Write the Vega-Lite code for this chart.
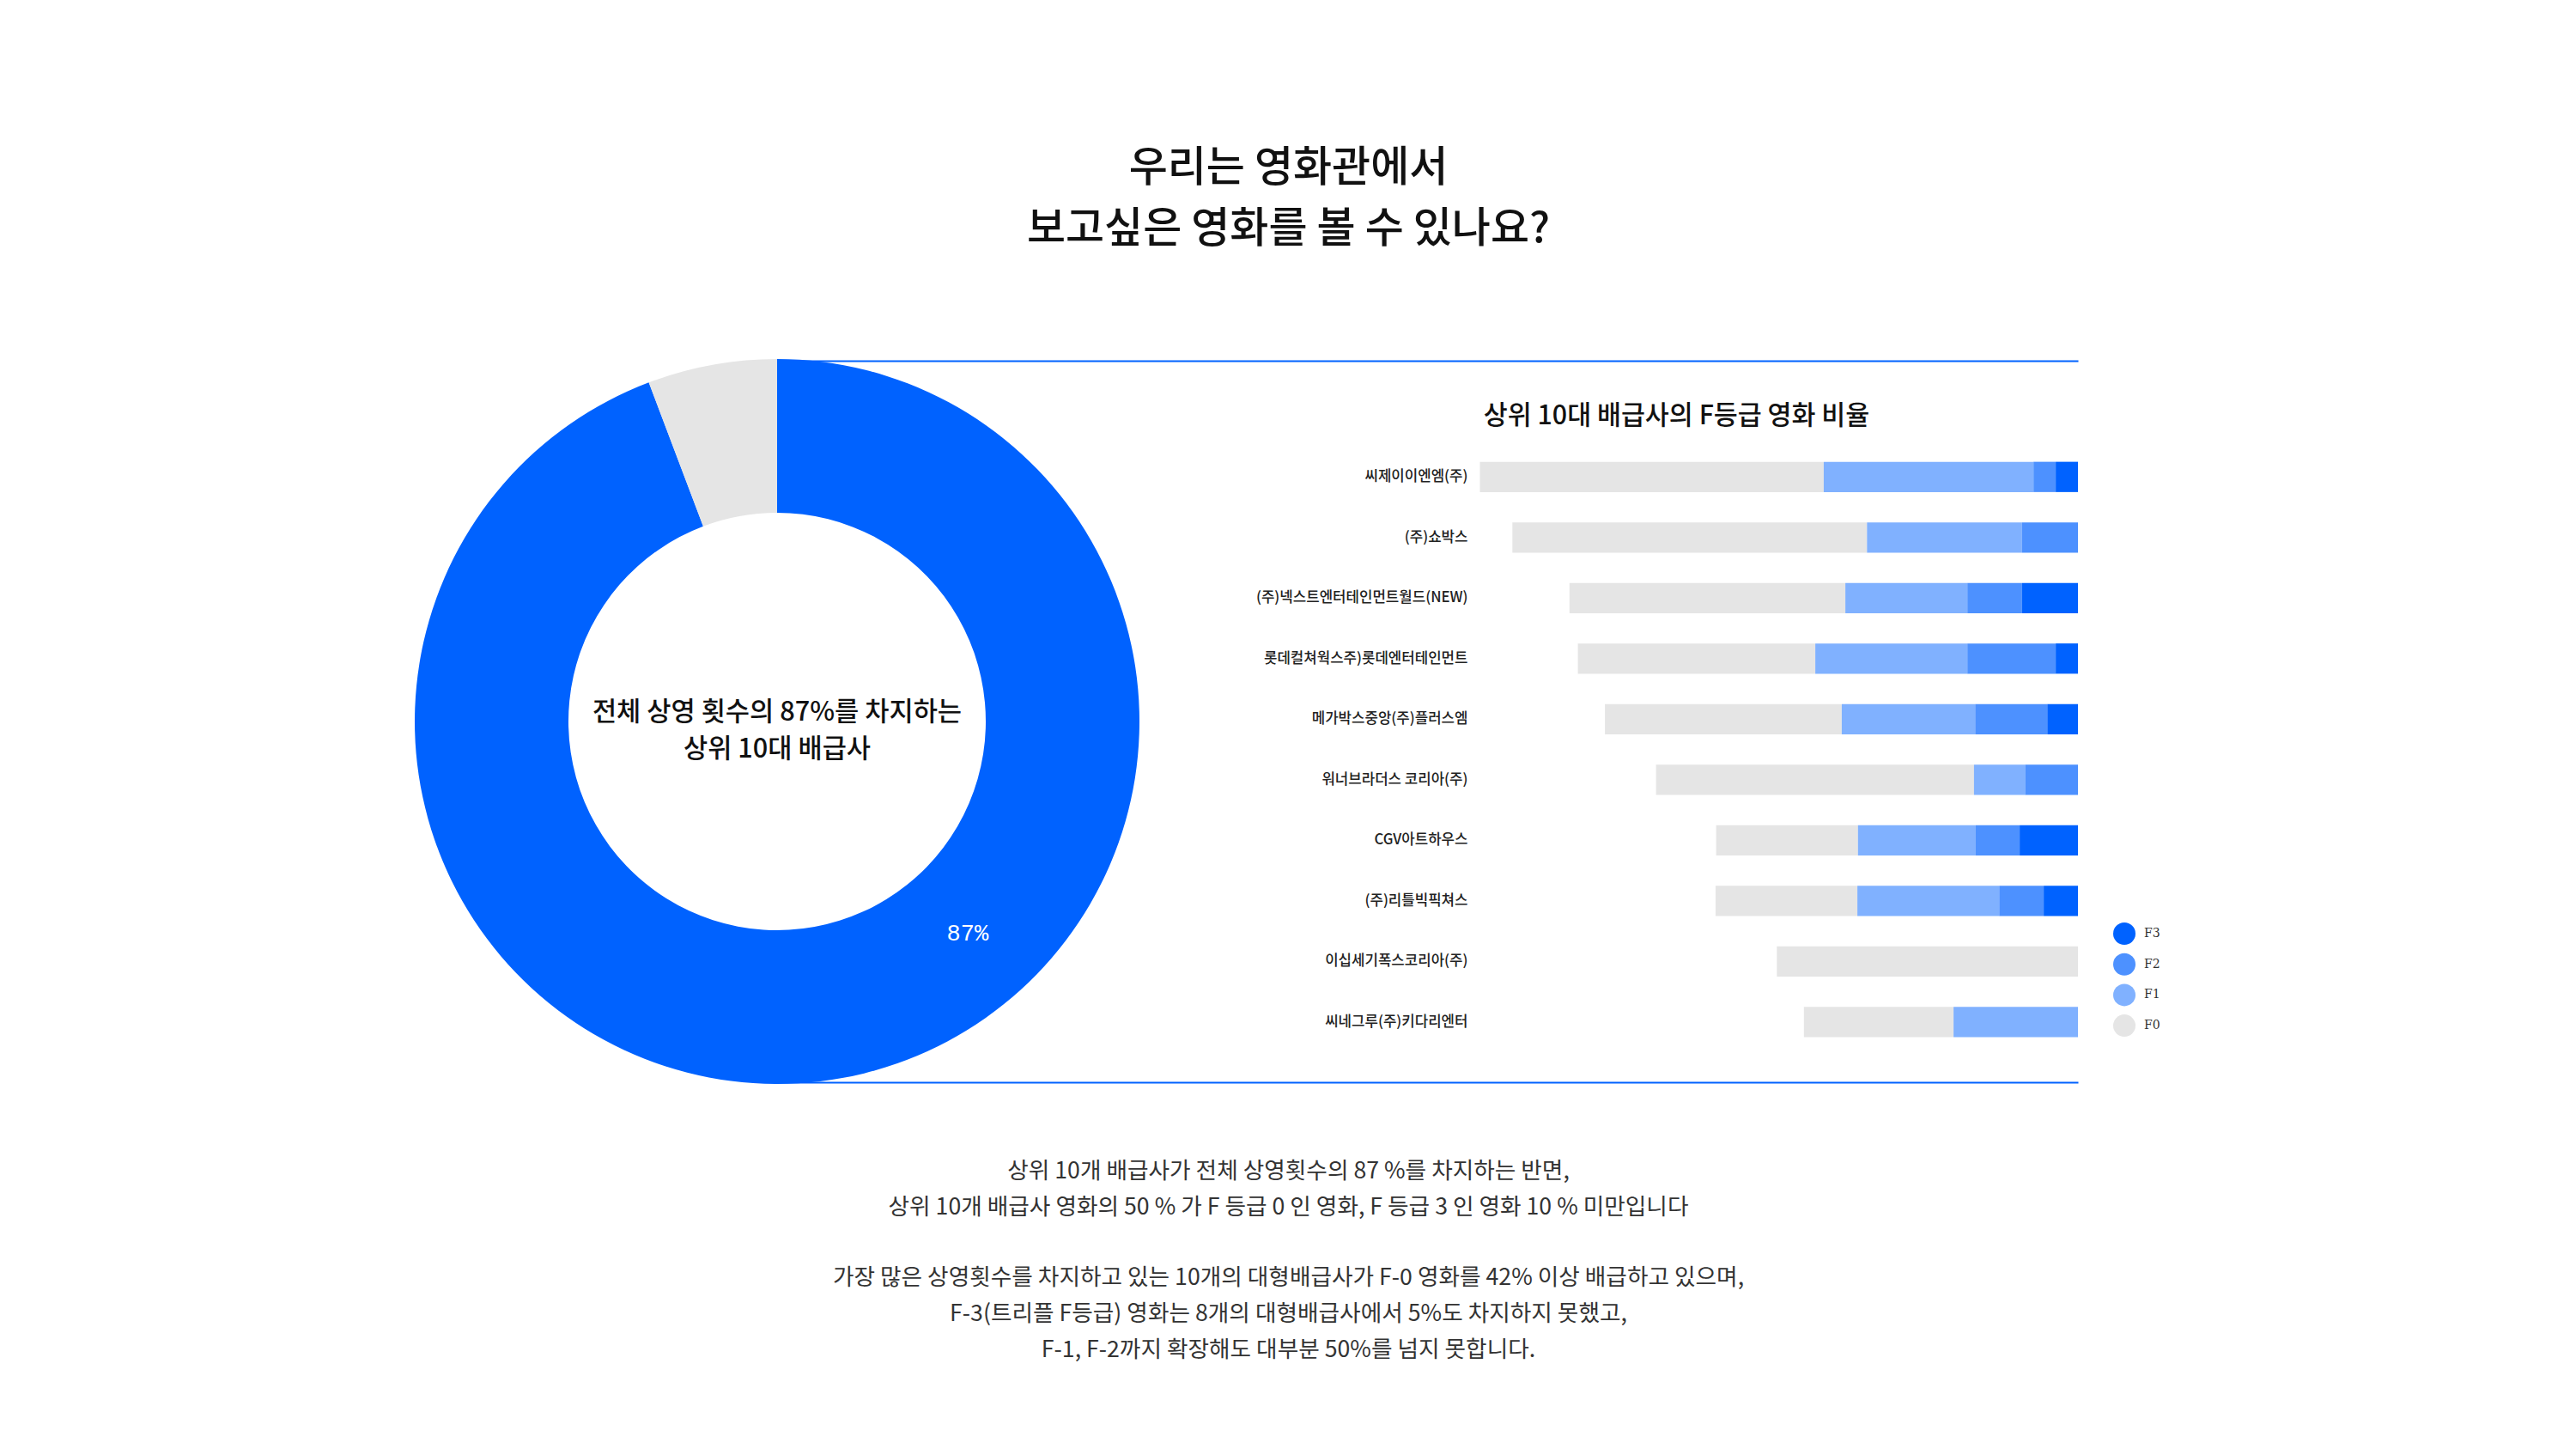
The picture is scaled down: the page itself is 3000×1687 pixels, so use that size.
{
  "$schema": "https://vega.github.io/schema/vega-lite/v6.json",
  "autosize": {"type": "none"},
  "padding": {"left": 905, "top": 420, "right": 580, "bottom": 427},
  "width": 1515,
  "height": 840,
  "background": "white",
  "config": {
    "view": {"stroke": null},
    "font": "Noto Sans CJK KR",
    "text": {"font": "Noto Sans CJK KR"}
  },
  "datasets": {
    "bars": [
      {"company": "씨제이이엔엠(주)", "grade": "F0", "value": 57.2},
      {"company": "씨제이이엔엠(주)", "grade": "F1", "value": 34.9},
      {"company": "씨제이이엔엠(주)", "grade": "F2", "value": 3.7},
      {"company": "씨제이이엔엠(주)", "grade": "F3", "value": 3.7},
      {"company": "(주)쇼박스", "grade": "F0", "value": 59.0},
      {"company": "(주)쇼박스", "grade": "F1", "value": 25.8},
      {"company": "(주)쇼박스", "grade": "F2", "value": 9.3},
      {"company": "(주)쇼박스", "grade": "F3", "value": 0},
      {"company": "(주)넥스트엔터테인먼트월드(NEW)", "grade": "F0", "value": 45.9},
      {"company": "(주)넥스트엔터테인먼트월드(NEW)", "grade": "F1", "value": 20.3},
      {"company": "(주)넥스트엔터테인먼트월드(NEW)", "grade": "F2", "value": 9.1},
      {"company": "(주)넥스트엔터테인먼트월드(NEW)", "grade": "F3", "value": 9.3},
      {"company": "롯데컬쳐웍스주)롯데엔터테인먼트", "grade": "F0", "value": 39.5},
      {"company": "롯데컬쳐웍스주)롯데엔터테인먼트", "grade": "F1", "value": 25.3},
      {"company": "롯데컬쳐웍스주)롯데엔터테인먼트", "grade": "F2", "value": 14.7},
      {"company": "롯데컬쳐웍스주)롯데엔터테인먼트", "grade": "F3", "value": 3.7},
      {"company": "메가박스중앙(주)플러스엠", "grade": "F0", "value": 39.4},
      {"company": "메가박스중앙(주)플러스엠", "grade": "F1", "value": 22.2},
      {"company": "메가박스중앙(주)플러스엠", "grade": "F2", "value": 12.0},
      {"company": "메가박스중앙(주)플러스엠", "grade": "F3", "value": 5.1},
      {"company": "워너브라더스 코리아(주)", "grade": "F0", "value": 52.9},
      {"company": "워너브라더스 코리아(주)", "grade": "F1", "value": 8.5},
      {"company": "워너브라더스 코리아(주)", "grade": "F2", "value": 8.8},
      {"company": "워너브라더스 코리아(주)", "grade": "F3", "value": 0},
      {"company": "CGV아트하우스", "grade": "F0", "value": 23.6},
      {"company": "CGV아트하우스", "grade": "F1", "value": 19.6},
      {"company": "CGV아트하우스", "grade": "F2", "value": 7.3},
      {"company": "CGV아트하우스", "grade": "F3", "value": 9.7},
      {"company": "(주)리틀빅픽쳐스", "grade": "F0", "value": 23.6},
      {"company": "(주)리틀빅픽쳐스", "grade": "F1", "value": 23.6},
      {"company": "(주)리틀빅픽쳐스", "grade": "F2", "value": 7.4},
      {"company": "(주)리틀빅픽쳐스", "grade": "F3", "value": 5.7},
      {"company": "이십세기폭스코리아(주)", "grade": "F0", "value": 50.1},
      {"company": "이십세기폭스코리아(주)", "grade": "F1", "value": 0},
      {"company": "이십세기폭스코리아(주)", "grade": "F2", "value": 0},
      {"company": "이십세기폭스코리아(주)", "grade": "F3", "value": 0},
      {"company": "씨네그루(주)키다리엔터", "grade": "F0", "value": 24.9},
      {"company": "씨네그루(주)키다리엔터", "grade": "F1", "value": 20.7},
      {"company": "씨네그루(주)키다리엔터", "grade": "F2", "value": 0},
      {"company": "씨네그루(주)키다리엔터", "grade": "F3", "value": 0}
    ],
    "donut": [
      {"idx": 1, "group": "상위 10대 배급사", "share": 94.24},
      {"idx": 2, "group": "기타", "share": 5.76}
    ],
    "donutLabel": [
      {"idx": 1, "label": "87%", "share": 76.7},
      {"idx": 2, "label": "", "share": 23.3}
    ]
  },
  "layer": [
    {
      "data": {"name": "bars"},
      "mark": {"type": "bar"},
      "encoding": {
        "y": {
          "field": "company",
          "type": "nominal",
          "sort": null,
          "scale": {"range": [100, 805], "paddingInner": 0.5, "paddingOuter": 0.25},
          "axis": {
            "orient": "left",
            "offset": -808,
            "domain": false,
            "ticks": false,
            "tickSize": 0,
            "grid": false,
            "labelPadding": 4,
            "labelFont": "Noto Sans CJK KR",
            "labelFontSize": 16.8,
            "labelFontWeight": 500,
            "labelColor": "#222222",
            "labelLimit": 400,
            "title": "상위 10대 배급사의 F등급 영화 비율",
            "titleAngle": 0,
            "titleX": 239,
            "titleY": 64,
            "titleAlign": "center",
            "titleBaseline": "middle",
            "titleFont": "Noto Sans CJK KR",
            "titleFontSize": 30.4,
            "titleFontWeight": 500,
            "titleColor": "#111111",
            "titleLimit": 1000
          }
        },
        "x": {
          "field": "value",
          "type": "quantitative",
          "stack": "zero",
          "scale": {"domain": [0, 216.4286], "reverse": true, "nice": false, "zero": true},
          "axis": {
            "orient": "top",
            "domain": true,
            "domainColor": "#0062FF",
            "domainWidth": 2,
            "labels": false,
            "ticks": false,
            "grid": false,
            "title": ["우리는 영화관에서", "보고싶은 영화를 볼 수 있나요?"],
            "titleX": 595,
            "titleY": -224.2,
            "titleAlign": "center",
            "titleBaseline": "middle",
            "titleFont": "Noto Sans CJK KR",
            "titleFontSize": 49,
            "titleFontWeight": 500,
            "titleLineHeight": 70.5,
            "titleColor": "#111111",
            "titleLimit": 2000
          }
        },
        "color": {
          "field": "grade",
          "type": "nominal",
          "scale": {"domain": ["F3", "F2", "F1", "F0"], "range": ["#0062FF", "#4D91FF", "#80B1FF", "#E5E5E5"]},
          "legend": {
            "orient": "none",
            "legendX": 1556,
            "legendY": 654,
            "title": null,
            "direction": "vertical",
            "symbolType": "circle",
            "symbolSize": 676,
            "symbolStrokeWidth": 0,
            "labelFont": "DejaVu Serif",
            "labelFontSize": 14,
            "labelColor": "#333333",
            "labelOffset": 10,
            "rowPadding": 9.7
          }
        },
        "order": {"field": "grade", "type": "nominal", "sort": "descending"}
      }
    },
    {
      "data": {"name": "donut"},
      "mark": {"type": "arc", "outerRadius": 422, "innerRadius": 243},
      "encoding": {
        "theta": {"field": "share", "type": "quantitative", "stack": true},
        "order": {"field": "idx", "type": "quantitative"},
        "detail": {"field": "idx", "type": "nominal"},
        "color": {
          "field": "group",
          "type": "nominal",
          "scale": {"domain": ["상위 10대 배급사", "기타"], "range": ["#0062FF", "#E5E5E5"]},
          "legend": null
        },
        "x": {
          "datum": 216.4286,
          "type": "quantitative",
          "axis": {
            "orient": "bottom",
            "domain": true,
            "domainColor": "#0062FF",
            "domainWidth": 2,
            "labels": false,
            "ticks": false,
            "grid": false,
            "title": [
              "상위 10개 배급사가 전체 상영횟수의 87 %를 차지하는 반면,",
              "상위 10개 배급사 영화의 50 % 가 F 등급 0 인 영화, F  등급 3 인 영화 10 % 미만입니다"
            ],
            "titleX": 595,
            "titleY": 103.5,
            "titleAlign": "center",
            "titleBaseline": "middle",
            "titleFont": "Noto Sans CJK KR",
            "titleFontSize": 26.7,
            "titleFontWeight": 400,
            "titleLineHeight": 41.7,
            "titleColor": "#333333",
            "titleLimit": 2000
          }
        }
      }
    },
    {
      "data": {"name": "donutLabel"},
      "mark": {"type": "text", "radius": 332, "font": "Liberation Mono", "fontSize": 27, "color": "white", "align": "center", "baseline": "middle"},
      "encoding": {
        "theta": {"field": "share", "type": "quantitative", "stack": true},
        "order": {"field": "idx", "type": "quantitative"},
        "detail": {"field": "idx", "type": "nominal"},
        "text": {"field": "label", "type": "nominal"},
        "x": {
          "datum": 216.4286,
          "type": "quantitative",
          "axis": {
            "orient": "bottom",
            "domain": false,
            "labels": false,
            "ticks": false,
            "grid": false,
            "title": [
              "가장 많은 상영횟수를 차지하고 있는 10개의 대형배급사가 F-0 영화를 42% 이상 배급하고 있으며,",
              "F-3(트리플 F등급) 영화는 8개의 대형배급사에서 5%도 차지하지 못했고,",
              "F-1, F-2까지 확장해도 대부분 50%를 넘지 못합니다."
            ],
            "titleX": 595,
            "titleY": 227.8,
            "titleAlign": "center",
            "titleBaseline": "middle",
            "titleFont": "Noto Sans CJK KR",
            "titleFontSize": 26.7,
            "titleFontWeight": 400,
            "titleLineHeight": 41.7,
            "titleColor": "#333333",
            "titleLimit": 2000
          }
        }
      }
    },
    {
      "data": {"values": [{"caption": "전체 상영 횟수의 87%를 차지하는\n상위 10대 배급사"}]},
      "mark": {"type": "text", "lineBreak": "\n", "fontSize": 30.7, "fontWeight": 500, "lineHeight": 43, "align": "center", "baseline": "middle", "color": "#111111", "dy": -10.5},
      "encoding": {
        "text": {"field": "caption", "type": "nominal"},
        "x": {"datum": 216.4286, "type": "quantitative", "axis": null}
      }
    }
  ],
  "resolve": {"scale": {"color": "independent"}, "axis": {"x": "independent"}}
}
